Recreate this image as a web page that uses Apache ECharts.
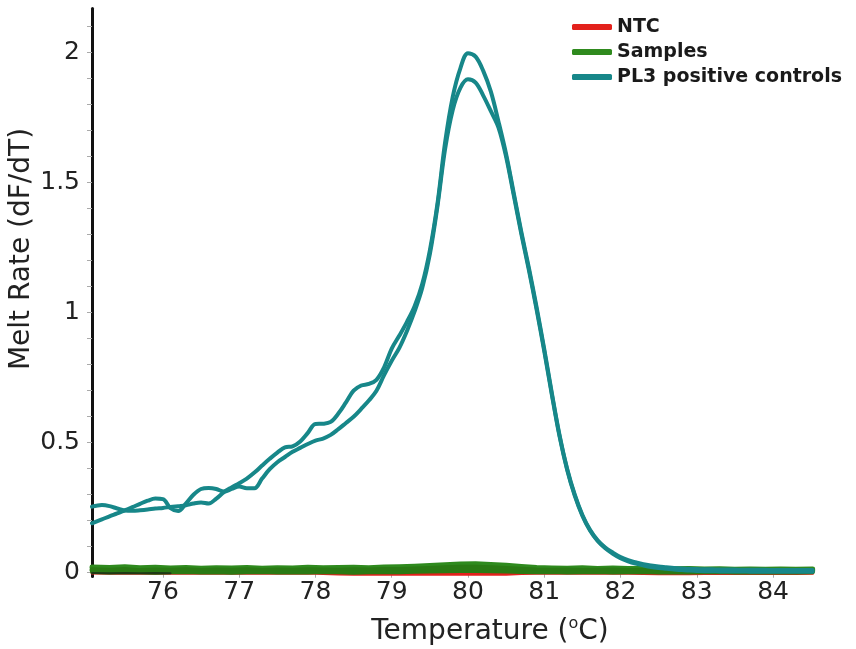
<!DOCTYPE html>
<html>
<head>
<meta charset="utf-8">
<title>Melt curve</title>
<script src="https://cdn.jsdelivr.net/npm/echarts@6/dist/echarts.min.js"></script>
<style>
  html, body { margin: 0; padding: 0; background: #ffffff; }
  #chart { width: 856px; height: 649px; }
</style>
</head>
<body>
<div id="chart"></div>
<script>
// Temperature grid (°C) shared by the two positive-control curves
const ctrlTemp = [
  75.07, 75.2, 75.3, 75.4, 75.5, 75.6, 75.7, 75.8, 75.9,
  76.0, 76.1, 76.2, 76.3, 76.4, 76.5, 76.6, 76.7, 76.8, 76.9,
  77.0, 77.1, 77.2, 77.3, 77.4, 77.5, 77.6, 77.7, 77.8, 77.9,
  78.0, 78.1, 78.2, 78.3, 78.4, 78.5, 78.6, 78.7, 78.8, 78.9,
  79.0, 79.1, 79.2, 79.3, 79.4, 79.5, 79.6, 79.7, 79.8, 79.9,
  80.0, 80.1, 80.2, 80.3, 80.4, 80.5, 80.6, 80.7, 80.8, 80.9,
  81.0, 81.1, 81.2, 81.3, 81.4, 81.5, 81.6, 81.7, 81.8, 81.9,
  82.0, 82.1, 82.2, 82.3, 82.4, 82.5, 82.6, 82.7, 82.8, 82.9,
  83.0, 83.1, 83.2, 83.3, 83.4, 83.5, 83.6, 83.7, 83.8, 83.9,
  84.0, 84.1, 84.2, 84.3, 84.4, 84.52
];

// PL3 positive control 1 (melt rate, dF/dT)
const ctrlA = [
  0.254, 0.260, 0.256, 0.247, 0.239, 0.238, 0.240, 0.243, 0.247,
  0.249, 0.253, 0.256, 0.259, 0.266, 0.270, 0.266, 0.285, 0.310, 0.328,
  0.344, 0.362, 0.385, 0.412, 0.438, 0.462, 0.482, 0.486, 0.505, 0.538,
  0.572, 0.573, 0.580, 0.612, 0.655, 0.700, 0.720, 0.726, 0.742, 0.790,
  0.862, 0.912, 0.965, 1.025, 1.110, 1.240, 1.420, 1.655, 1.830, 1.940,
  1.998, 1.985, 1.930, 1.850, 1.735, 1.610, 1.460, 1.310, 1.170, 1.020,
  0.860, 0.690, 0.530, 0.400, 0.300, 0.222, 0.165, 0.125, 0.097, 0.077,
  0.060, 0.048, 0.040, 0.033, 0.028, 0.024, 0.021, 0.018, 0.016, 0.015,
  0.014, 0.013, 0.013, 0.012, 0.012, 0.012, 0.011, 0.011, 0.011, 0.011,
  0.010, 0.010, 0.010, 0.010, 0.010, 0.010
];

// PL3 positive control 2 (melt rate, dF/dT)
const ctrlB = [
  0.190, 0.205, 0.217, 0.228, 0.240, 0.252, 0.265, 0.277, 0.285,
  0.283, 0.248, 0.237, 0.266, 0.300, 0.322, 0.326, 0.322, 0.312, 0.322,
  0.332, 0.325, 0.325, 0.362, 0.398, 0.425, 0.445, 0.465, 0.480, 0.495,
  0.508, 0.516, 0.530, 0.552, 0.576, 0.600, 0.630, 0.662, 0.700, 0.760,
  0.815, 0.865, 0.930, 1.005, 1.095, 1.225, 1.410, 1.630, 1.780, 1.865,
  1.898, 1.885, 1.835, 1.775, 1.712, 1.600, 1.452, 1.302, 1.162, 1.012,
  0.852, 0.684, 0.525, 0.396, 0.296, 0.219, 0.162, 0.122, 0.094, 0.073,
  0.056, 0.044, 0.035, 0.028, 0.022, 0.018, 0.015, 0.012, 0.010, 0.008,
  0.007, 0.006, 0.006, 0.005, 0.005, 0.005, 0.005, 0.004, 0.004, 0.004,
  0.004, 0.004, 0.004, 0.004, 0.004, 0.004
];

// Temperature grid (°C) for the flat sample and NTC traces
const sampleTemp = [
  75.07, 75.3, 75.5, 75.7, 75.9, 76.1, 76.3, 76.5, 76.7, 76.9,
  77.1, 77.3, 77.5, 77.7, 77.9, 78.1, 78.3, 78.5, 78.7, 78.9,
  79.1, 79.3, 79.5, 79.7, 79.9, 80.1, 80.3, 80.5, 80.7, 80.9,
  81.1, 81.3, 81.5, 81.7, 81.9, 82.1, 82.3, 82.5, 82.7, 82.9,
  83.1, 83.3, 83.5, 83.7, 83.9, 84.1, 84.3, 84.52
];

// Sample traces (no amplification, near zero)
const samplesTop = [
  0.022, 0.020, 0.023, 0.019, 0.021, 0.018, 0.020, 0.017, 0.019, 0.018,
  0.020, 0.017, 0.019, 0.018, 0.021, 0.019, 0.020, 0.021, 0.019, 0.022,
  0.023, 0.025, 0.028, 0.031, 0.033, 0.034, 0.032, 0.029, 0.024, 0.020,
  0.018, 0.017, 0.019, 0.016, 0.018, 0.016, 0.017, 0.016, 0.015, 0.016,
  0.014, 0.015, 0.013, 0.014, 0.013, 0.014, 0.013, 0.014
];
const samplesMid = [
  0.011, 0.009, 0.012, 0.008, 0.010, 0.009, 0.011, 0.008, 0.010, 0.009,
  0.011, 0.008, 0.010, 0.009, 0.011, 0.010, 0.009, 0.011, 0.010, 0.012,
  0.012, 0.014, 0.016, 0.019, 0.021, 0.021, 0.019, 0.016, 0.013, 0.010,
  0.009, 0.010, 0.008, 0.009, 0.010, 0.008, 0.009, 0.008, 0.009, 0.007,
  0.008, 0.007, 0.008, 0.007, 0.008, 0.007, 0.008, 0.007
];
const samplesLow = [
  0.003, 0.001, 0.003, 0.002, 0.000, 0.002, 0.003, 0.001, 0.002, 0.000,
  0.002, 0.003, 0.001, 0.002, 0.001, 0.003, 0.002, 0.000, 0.002, 0.003,
  0.002, 0.004, 0.005, 0.006, 0.007, 0.007, 0.006, 0.005, 0.003, 0.002,
  0.003, 0.001, 0.002, 0.003, 0.001, 0.002, 0.003, 0.001, 0.002, 0.001,
  0.002, 0.003, 0.001, 0.002, 0.001, 0.002, 0.001, 0.002
];
// A darker sample trace visible only at the low-temperature end
const samplesDarkTemp = [75.07, 75.3, 75.5, 75.7, 75.9, 76.1];
const samplesDark = [-0.001, -0.002, -0.001, -0.002, -0.001, -0.002];

// No-template controls
const ntcValues = [
  -0.001, -0.002, -0.001, -0.002, -0.001, -0.002, -0.001, -0.002, -0.001, -0.002,
  -0.001, -0.002, -0.001, -0.002, -0.001, -0.003, -0.005, -0.006, -0.005, -0.006,
  -0.005, -0.006, -0.005, -0.006, -0.005, -0.006, -0.005, -0.006, -0.003, -0.002,
  -0.001, -0.002, -0.001, -0.002, -0.001, -0.002, -0.003, -0.004, -0.003, -0.004,
  -0.003, -0.002, -0.003, -0.002, -0.003, -0.002, -0.003, -0.002
];

// Axis ticks and labels
const xTickValues = [76, 77, 78, 79, 80, 81, 82, 83, 84];
const yLabelValues = [0, 0.5, 1, 1.5, 2];
const yTickValues = [0, 0.1, 0.2, 0.3, 0.4, 0.5, 0.6, 0.7, 0.8, 0.9, 1.0,
                     1.1, 1.2, 1.3, 1.4, 1.5, 1.6, 1.7, 1.8, 1.9, 2.0, 2.1];

const legendNames = ['NTC', 'Samples', 'PL3 positive controls'];
const COLORS = {
  ntc: '#e3211c',
  samples: '#2f8a1e',
  samplesDeep: '#2a7a14',
  samplesDark: '#1f3a16',
  ctrl: '#178789'
};

const FONT = 'DejaVu Sans';

function zip(xs, ys) {
  return xs.map(function (x, i) { return [x, ys[i]]; });
}

function lineSeries(name, data, color, width, smooth, z) {
  return {
    name: name,
    type: 'line',
    data: data,
    symbol: 'none',
    smooth: smooth,
    silent: true,
    z: z,
    itemStyle: { color: color },
    lineStyle: { color: color, width: width, cap: 'round', join: 'round' }
  };
}

const chart = echarts.init(document.getElementById('chart'));

chart.setOption({
  animation: false,
  backgroundColor: '#ffffff',
  grid: { left: 92, right: 43.3, top: 8.5, bottom: 72.4 },
  legend: {
    orient: 'vertical',
    left: 567,
    top: 11,
    padding: 5,
    itemWidth: 40,
    itemHeight: 6,
    itemGap: 3,
    icon: 'roundRect',
    selectedMode: false,
    textStyle: {
      fontFamily: FONT,
      fontSize: 19,
      fontWeight: 'bold',
      color: '#1a1a1a',
      lineHeight: 22
    },
    data: [
      { name: legendNames[0], itemStyle: { color: COLORS.ntc } },
      { name: legendNames[1], itemStyle: { color: COLORS.samples } },
      { name: legendNames[2], itemStyle: { color: COLORS.ctrl } }
    ]
  },
  xAxis: {
    type: 'value',
    min: 75.07,
    max: 84.52,
    splitLine: { show: false },
    axisLine: { show: false },
    axisTick: {
      show: true,
      customValues: xTickValues,
      length: 5,
      lineStyle: { color: '#aaaaaa', width: 1 }
    },
    axisLabel: {
      customValues: xTickValues,
      margin: 3,
      fontFamily: FONT,
      fontSize: 25,
      color: '#222222'
    }
  },
  yAxis: {
    type: 'value',
    min: -0.015,
    max: 2.17,
    splitLine: { show: false },
    axisLine: { show: true, lineStyle: { color: '#111111', width: 3 } },
    axisTick: {
      show: true,
      customValues: yTickValues,
      length: 5,
      lineStyle: { color: '#aaaaaa', width: 1 }
    },
    axisLabel: {
      customValues: yLabelValues,
      margin: 12,
      fontFamily: FONT,
      fontSize: 25,
      color: '#222222',
      formatter: function (v) { return String(Math.round(v * 10) / 10); }
    }
  },
  graphic: [
    {
      type: 'text',
      x: 490,
      y: 632,
      silent: true,
      style: {
        text: '{a|Temperature (}{s|o}{a|C)}',
        align: 'center',
        textAlign: 'center',
        verticalAlign: 'middle',
        textVerticalAlign: 'middle',
        rich: {
          a: { fontFamily: FONT, fontSize: 28, fill: '#222222', lineHeight: 32 },
          s: { fontFamily: FONT, fontSize: 16, fill: '#222222', verticalAlign: 'top', lineHeight: 32 }
        }
      }
    },
    {
      type: 'text',
      x: 22,
      y: 249,
      rotation: Math.PI / 2,
      silent: true,
      style: {
        text: 'Melt Rate (dF/dT)',
        fontFamily: FONT,
        fontSize: 28,
        fill: '#222222',
        align: 'center',
        textAlign: 'center',
        verticalAlign: 'middle',
        textVerticalAlign: 'middle'
      }
    }
  ],
  series: [
    lineSeries(legendNames[0], zip(sampleTemp, ntcValues), COLORS.ntc, 3, false, 1),
    lineSeries(legendNames[1], zip(sampleTemp, samplesTop), COLORS.samples, 5, false, 2),
    lineSeries(legendNames[1], zip(sampleTemp, samplesMid), COLORS.samplesDeep, 5, false, 2),
    lineSeries(legendNames[1], zip(sampleTemp, samplesLow), COLORS.samplesDeep, 4, false, 2),
    lineSeries(legendNames[1], zip(samplesDarkTemp, samplesDark), COLORS.samplesDark, 2, false, 2),
    lineSeries(legendNames[2], zip(ctrlTemp, ctrlB), COLORS.ctrl, 4, 0.35, 3),
    lineSeries(legendNames[2], zip(ctrlTemp, ctrlA), COLORS.ctrl, 4, 0.35, 3)
  ]
});
</script>
</body>
</html>
